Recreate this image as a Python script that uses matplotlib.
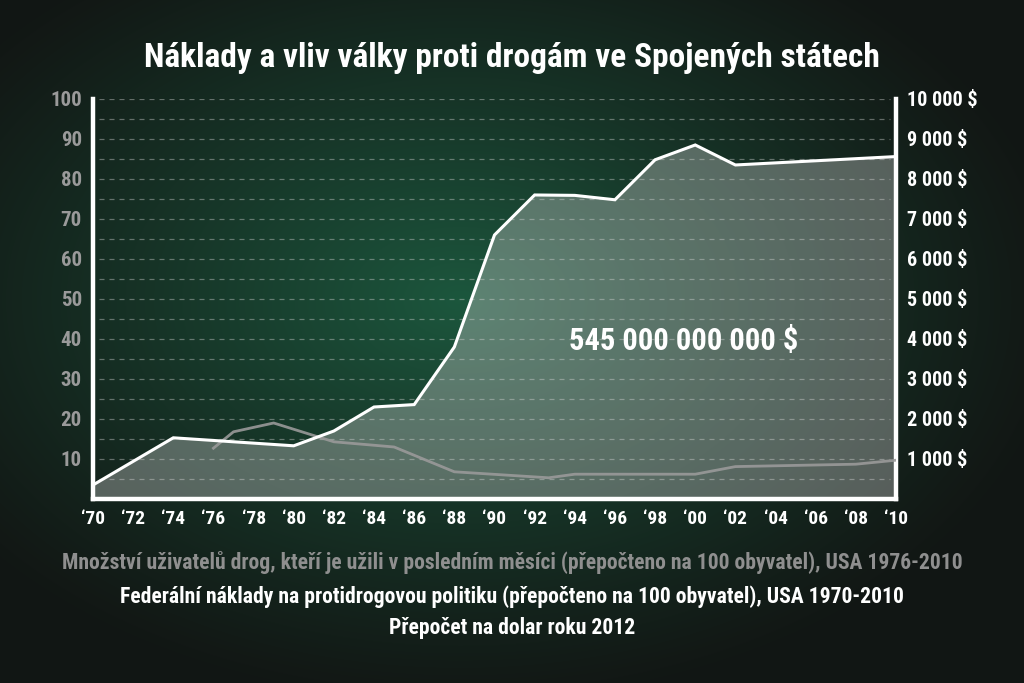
import numpy as np
import matplotlib
matplotlib.use("Agg")
import matplotlib.pyplot as plt
from matplotlib import font_manager

# Federal drug-control spending per 100 inhabitants (left scale x100 = right scale $)
cost_years = [1970, 1974, 1980, 1982, 1984, 1986, 1988, 1990, 1992, 1994, 1996, 1998, 2000, 2002, 2010]
cost_vals = [3.5, 15.3, 13.3, 17.0, 23.0, 23.6, 38.0, 66.0, 76.0, 75.9, 74.8, 84.8, 88.5, 83.5, 85.6]

# Monthly drug users per 100 inhabitants
user_years = [1976, 1977, 1979, 1982, 1985, 1988, 1992.7, 1994, 2000, 2002, 2008, 2010]
user_vals = [12.7, 16.8, 19.0, 14.3, 13.0, 6.8, 5.3, 6.2, 6.2, 8.1, 8.7, 9.7]

x_ticks = list(range(1970, 2011, 2))
x_labels = ["\u2018%02d" % (y % 100) for y in x_ticks]
left_ticks = list(range(10, 101, 10))
right_labels = ["1 000 $", "2 000 $", "3 000 $", "4 000 $", "5 000 $",
                "6 000 $", "7 000 $", "8 000 $", "9 000 $", "10 000 $"]

title = "Náklady a vliv války proti drogám ve Spojených státech"
note_users = "Množství uživatelů drog, kteří je užili v posledním měsíci (přepočteno na 100 obyvatel), USA 1976-2010"
note_cost = "Federální náklady na protidrogovou politiku (přepočteno na 100 obyvatel), USA 1970-2010"
note_dollar = "Přepočet na dolar roku 2012"
total_text = "545 000 000 000 $"

# pick a narrow font if one is there
installed = {f.name for f in font_manager.fontManager.ttflist}
font = "DejaVu Sans"
for cand in ["Roboto Condensed", "Liberation Sans Narrow", "Open Sans Condensed", "DejaVu Sans Condensed"]:
    if cand in installed:
        font = cand
        break
plt.rcParams["font.family"] = [font, "DejaVu Sans"]
plt.rcParams["font.weight"] = "bold"

fig = plt.figure(figsize=(10.24, 6.83), dpi=100)

# background: dark radial green glow
bg = fig.add_axes([0, 0, 1, 1])
yy, xx = np.mgrid[0:683, 0:1024]
d = np.sqrt(((xx - 460) / 600.0) ** 2 + ((yy - 300) / 400.0) ** 2)
t = np.clip(1 - d, 0, 1) ** 1.1
c_out = np.array([0.07, 0.09, 0.08])
c_in = np.array([0.11, 0.34, 0.24])
img = c_out + (c_in - c_out) * t[..., None]
bg.imshow(img, aspect="auto", extent=[0, 1, 0, 1], origin="upper")
bg.set_axis_off()

ax = fig.add_axes([0.0908, 0.2694, 0.7842, 0.5857])
ax.patch.set_alpha(0)
ax.set_xlim(1970, 2010)
ax.set_ylim(0, 100)

for g in range(5, 101, 5):
    ax.axhline(g, xmin=0.008, xmax=0.992, color="#c8c8c8", alpha=0.45,
               lw=0.9, ls=(0, (4, 4)), zorder=1)

ax.fill_between(cost_years, cost_vals, 0, color="#d8d8d8", alpha=0.35, lw=0, zorder=2)
ax.plot(user_years, user_vals, color="#9a9a9a", lw=2.0, alpha=0.9, zorder=3)
ax.plot(cost_years, cost_vals, color="white", lw=2.2, zorder=4, solid_joinstyle="miter")

ax.text(1999.4, 39.5, total_text, color="white", fontsize=22, ha="center", va="center",
        fontweight="bold", zorder=5)

for s in ["left", "bottom", "right"]:
    ax.spines[s].set_color("white")
    ax.spines[s].set_linewidth(3.2)
ax.spines["top"].set_visible(False)

ax.set_xticks(x_ticks)
ax.set_xticklabels(x_labels, color="white", fontsize=14)
ax.set_yticks(left_ticks)
ax.set_yticklabels([str(v) for v in left_ticks], color="#9a9a9a", fontsize=15)
ax.tick_params(length=0, pad=8)
ax.tick_params(axis="x", pad=8)

ax2 = ax.twinx()
ax2.set_ylim(0, 100)
ax2.set_yticks(left_ticks)
ax2.set_yticklabels(right_labels, color="white", fontsize=14.5)
ax2.tick_params(length=0, pad=8)
for s in ax2.spines.values():
    s.set_visible(False)

fig.text(0.5, 0.915, title, color="white", fontsize=24, ha="center", va="center", fontweight="bold")
fig.text(0.5, 0.176, note_users, color="#8f8f8f", fontsize=15.6, ha="center", va="center")
fig.text(0.5, 0.126, note_cost, color="white", fontsize=15.6, ha="center", va="center")
fig.text(0.5, 0.081, note_dollar, color="white", fontsize=15.6, ha="center", va="center")

fig.savefig("out.png", dpi=100)
